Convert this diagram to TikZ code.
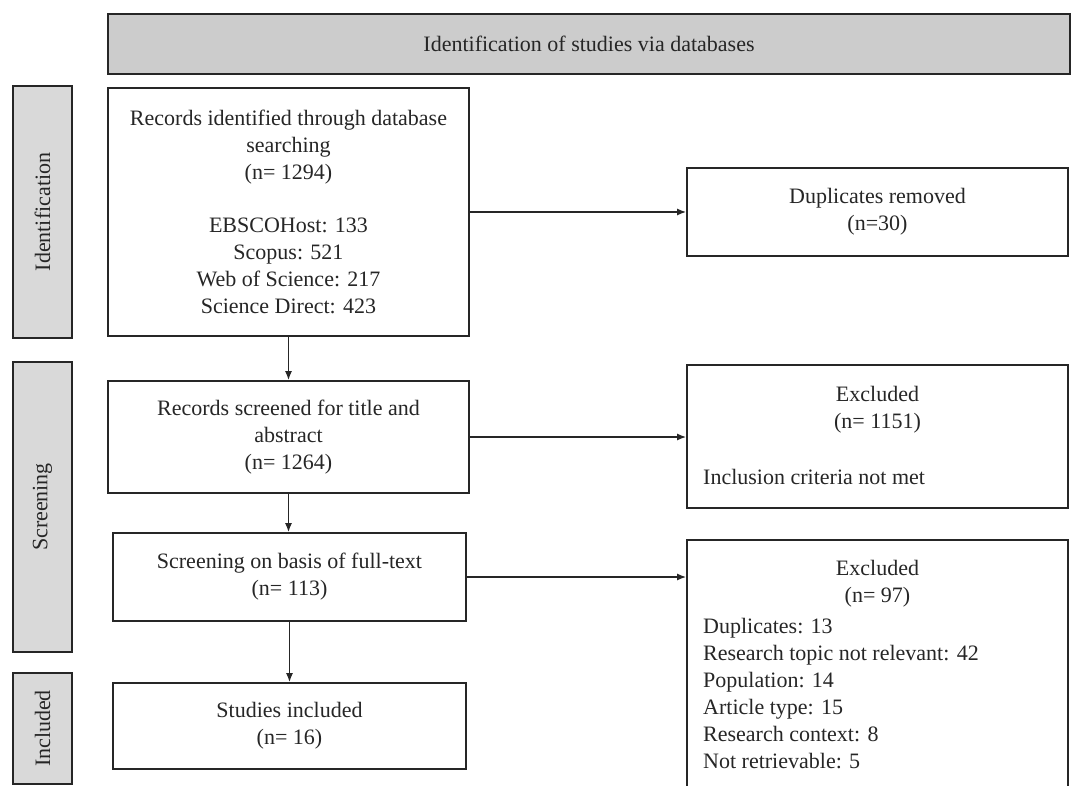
\documentclass[tikz,border=0pt]{standalone}
\usepackage{fontspec}
\setmainfont{Liberation Serif}
\usetikzlibrary{arrows.meta}
\definecolor{hdrgray}{HTML}{CCCCCC}
\definecolor{sidegray}{HTML}{D9D9D9}
\definecolor{ink}{HTML}{262626}
\begin{document}
\begin{tikzpicture}[x=1pt,y=-1pt,
  box/.style={draw=ink, line width=1.7pt, fill=white, inner sep=0pt},
  side/.style={box, fill=sidegray, minimum width=59pt},
  txt/.style={font=\fontsize{22}{27}\selectfont, align=center, text=ink, inner sep=0pt},
  arr/.style={draw=ink, line width=1.5pt, -{Latex[length=9pt,width=7pt]}},
]
\useasboundingbox (0,0) rectangle (1071,786);
\clip (0,0) rectangle (1071,786);
\fill[white] (0,0) rectangle (1071,786);

% header
\node[box, fill=hdrgray, minimum width=962pt, minimum height=60pt] (hdr) at (589,44) {};
\node[txt] (hdrt) at (hdr.center) {Identification of studies via databases};

% side boxes
\node[side, minimum height=252pt] (sid) at (42.5,212) {};
\node[txt, rotate=90] (sidt) at (sid.center) {Identification};
\node[side, minimum height=290pt] (sscr) at (42.5,507) {};
\node[txt, rotate=90] (sscrt) at (sscr.center) {Screening};
\node[side, minimum height=111pt] (sinc) at (42.5,728.5) {};
\node[txt, rotate=90] (sinct) at (sinc.center) {Included};

% main column
\node[box, minimum width=361pt, minimum height=248pt] (rec) at (288.5,212) {};
\node[txt] (rect) at (rec.center) {Records identified through database\\searching\\(n= 1294)\\[26pt]EBSCOHost: 133\\Scopus: 521\\Web of Science: 217\\Science Direct: 423};

\node[box, minimum width=361pt, minimum height=112pt] (scr) at (288.5,437) {};
\node[txt] (scrt) at (scr.center) {Records screened for title and\\abstract\\(n= 1264)};

\node[box, minimum width=353pt, minimum height=88pt] (ft) at (289.5,577) {};
\node[txt] (ftt) at (ft.center) {Screening on basis of full-text\\(n= 113)};

\node[box, minimum width=353pt, minimum height=86pt] (inc) at (289.5,726) {};
\node[txt] (inct) at (inc.center) {Studies included\\(n= 16)};

% right column
\node[box, minimum width=381pt, minimum height=88pt] (dup) at (877.5,212) {};
\node[txt] (dupt) at (dup.center) {Duplicates removed\\(n=30)};

\node[box, minimum width=381pt, minimum height=143pt] (exa) at (877.5,436.5) {};
\node[txt] (exat) at (877.5,410) {Excluded\\(n= 1151)};
\node[txt, anchor=west] (exab) at (703,477) {Inclusion criteria not met};

\node[box, minimum width=381pt, minimum height=260pt] (exb) at (877.5,670) {};
\node[txt] (exbt) at (877.5,584) {Excluded\\(n= 97)};
\node[txt, anchor=west, align=left] (exbl) at (703,693.5) {Duplicates: 13\\Research topic not relevant: 42\\Population: 14\\Article type: 15\\Research context: 8\\Not retrievable: 5};

% connectors
\draw[arr] (rec.south) -- (scr.north);
\draw[arr] (scr.south) -- (scr.south |- ft.north);
\draw[arr] (ft.south) -- (inc.north);
\draw[arr] (rec.east) -- (dup.west);
\draw[arr] (scr.east) -- (scr.east -| exa.west);
\draw[arr] (ft.east) -- (ft.east -| exb.west);
\end{tikzpicture}
\end{document}
